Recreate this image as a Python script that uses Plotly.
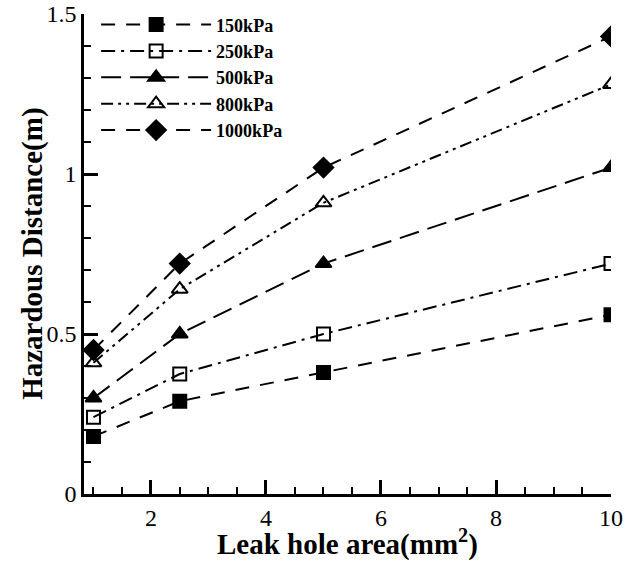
import plotly.graph_objects as go

leak_area = [1, 2.5, 5, 10]
series_names = ["150kPa", "250kPa", "500kPa", "800kPa", "1000kPa"]
d150 = [0.18, 0.29, 0.38, 0.56]
d250 = [0.24, 0.375, 0.50, 0.72]
d500 = [0.30, 0.50, 0.72, 1.02]
d800 = [0.41, 0.64, 0.91, 1.28]
d1000 = [0.45, 0.72, 1.02, 1.43]
values = [d150, d250, d500, d800, d1000]

symbols = ["square", "square-open", "triangle-up", "triangle-up-open", "diamond"]
dashes = ["14px,11px", "14px,6px,3px,6px", "20px,9px", "12px,5px,3px,5px,3px,5px", "14px,11px"]
sizes = [13, 13, 14, 14, 15]

FONT = "Liberation Serif"
fig = go.Figure()
for name, vals, sym, dash, sz in zip(series_names, values, symbols, dashes, sizes):
    fig.add_trace(go.Scatter(
        x=leak_area, y=vals, name=name, mode="lines+markers",
        line=dict(color="black", width=2, dash=dash),
        marker=dict(symbol=sym, size=sz, color="black",
                    line=dict(color="black", width=2)),
    ))

fig.add_annotation(
    text="<b>Leak hole area(mm<sup>2</sup>)</b>", xref="paper", yref="paper",
    x=0.5, y=-0.1, xanchor="center", yanchor="middle", showarrow=False,
    font=dict(family=FONT, size=29, color="black"),
)
fig.add_annotation(
    text="<b>Hazardous Distance(m)</b>", xref="paper", yref="paper",
    x=-0.099, y=0.5, xanchor="center", yanchor="middle", showarrow=False,
    textangle=-90, font=dict(family=FONT, size=29, color="black"),
)

fig.update_layout(
    width=634, height=564,
    margin=dict(l=84, r=23, t=14, b=70, autoexpand=False),
    paper_bgcolor="white", plot_bgcolor="white",
    font=dict(family=FONT, color="black", size=24),
    showlegend=True,
    legend=dict(
        x=0.023, y=1.016, xanchor="left", yanchor="top",
        bgcolor="rgba(0,0,0,0)", borderwidth=0,
        font=dict(family=FONT, size=18, color="black", weight="bold"),
        itemwidth=110, tracegroupgap=0,
    ),
    xaxis=dict(
        range=[0.835, 10], tick0=0, dtick=2,
        showgrid=False, zeroline=False, automargin=False,
        showline=True, linecolor="black", linewidth=2.5,
        ticks="inside", ticklen=14, tickwidth=2.5, tickcolor="black",
        minor=dict(dtick=0.5, ticks="inside", ticklen=7, tickwidth=1.5, tickcolor="black"),
        tickfont=dict(family=FONT, size=24),
    ),
    yaxis=dict(
        range=[0, 1.5], tick0=0, dtick=0.5,
        showgrid=False, zeroline=False, automargin=False,
        showline=True, linecolor="black", linewidth=2.5,
        ticks="inside", ticklen=14, tickwidth=2.5, tickcolor="black",
        minor=dict(dtick=0.1, ticks="inside", ticklen=7, tickwidth=1.5, tickcolor="black"),
        tickfont=dict(family=FONT, size=24),
    ),
)

fig.write_html("out.html", config={"displayModeBar": False},
               post_script="document.body.style.margin='0px';")
